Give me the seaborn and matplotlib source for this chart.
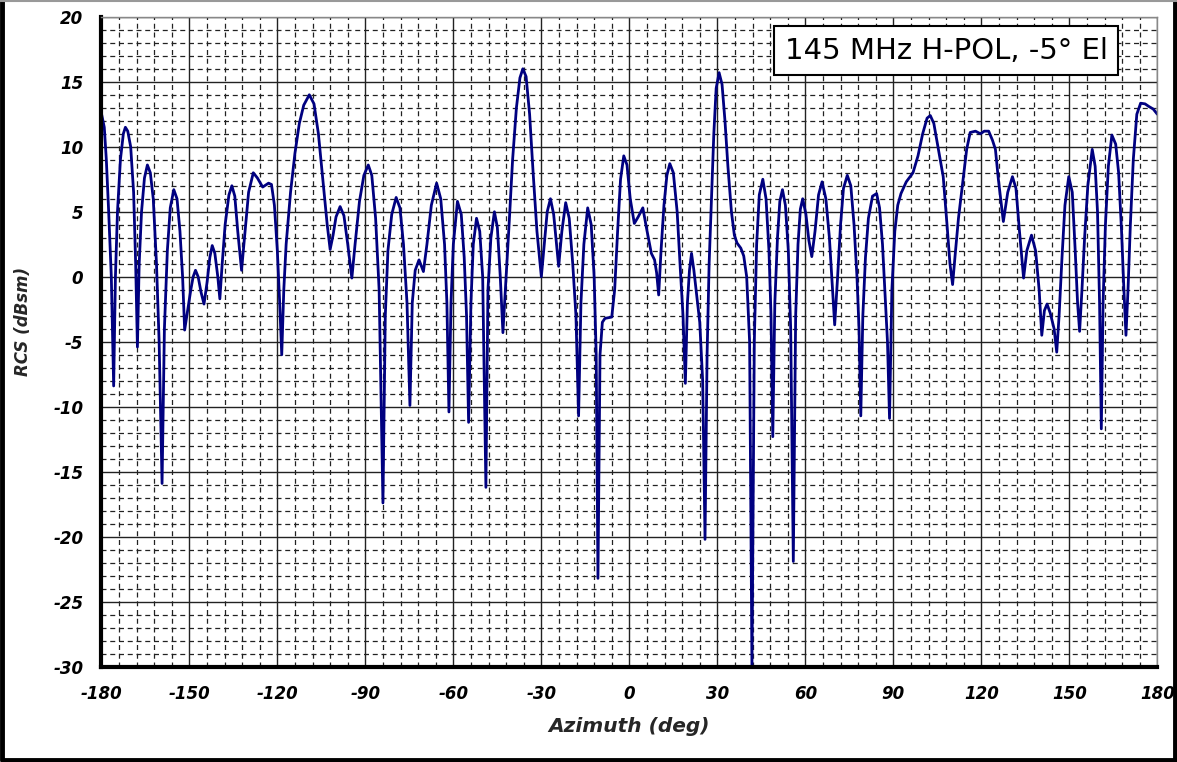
import matplotlib
matplotlib.use("Agg")
import matplotlib.pyplot as plt
from matplotlib.ticker import MultipleLocator
from matplotlib.lines import Line2D
import seaborn as sns
import pandas as pd

# azimuth (deg) and RCS (dBsm)
azimuth = [
    -180, -179, -178.3, -177.5, -176.6, -175.8, -175.2, -174.5, -173.5, -172.5, -171.8, -171, -170, -169, -168.3,
    -167.7, -167.1, -166.3, -165.3, -164.3, -163.3, -162.3, -161.2, -160.3, -159.3, -158.5, -157.5, -156.5,
    -155.3, -154.2, -153.2, -152.3, -151.6, -150.5, -149.5, -148.7, -147.9, -147, -146, -145, -144, -143,
    -142.2, -141.3, -140.3, -139.6, -138.8, -137.8, -136.5, -135.5, -134.5, -133.5, -132.2, -131, -129.8,
    -128.2, -126.8, -125, -123, -122, -121, -120, -119.2, -118.5, -117.8, -117, -115.5, -114, -112.5, -111,
    -109.1, -107.5, -106, -104.5, -103, -102, -101, -100, -98.6, -97.3, -96, -94.6, -93.5, -92, -90.5, -89,
    -87.8, -86.5, -85.3, -84, -83.2, -82.3, -81, -79.5, -78.2, -77, -75.8, -74.8, -74, -73, -71.7, -70.2,
    -69, -67.5, -65.7, -64.3, -63, -62.2, -61.5, -60.8, -60, -58.6, -57.3, -56.3, -55.5, -54.8, -54, -53.2,
    -52.1, -51, -50, -48.9, -48.2, -47.2, -46, -45, -44, -43.1, -42, -41, -39.8, -38.5, -37.3, -36.3, -35.2,
    -34, -32.8, -31.5, -30, -29, -28, -26.9, -25.8, -24.1, -23, -21.7, -20.5, -19.3, -18.2, -17.3, -16.5,
    -15.5, -14.2, -13, -12, -11.3, -10.7, -10, -9.2, -8.3, -6, -5, -4, -3, -1.9, -0.8, 0.3, 1.7, 3, 4.6,
    5.8, 7.5, 8.6, 9.3, 10, 10.8, 11.8, 12.8, 13.8, 15, 16.3, 17.4, 18.3, 19.1, 19.8, 20.5, 21.2, 22, 23,
    24, 25, 25.8, 26.5, 27.2, 28, 28.8, 29.6, 30.6, 31.6, 32.6, 33.6, 34.8, 35.8, 36.7, 38, 39, 40, 41,
    41.8, 42.6, 43.4, 44.3, 45.5, 46.6, 47.6, 48.3, 48.9, 49.6, 50.5, 51.3, 52.2, 53.2, 54.2, 55, 55.9,
    56.7, 57.5, 58.3, 59.1, 60.2, 61.2, 62.2, 63.3, 64.5, 65.7, 67, 68.2, 69, 70, 71, 72, 73, 74.3, 75.5,
    76.6, 77.6, 78.3, 78.9, 79.6, 80.5, 81.5, 82.9, 84.3, 85.3, 86.3, 87.2, 88, 88.7, 89.5, 90.5, 91.5,
    92.6, 94.4, 96.7, 98.4, 100, 101.5, 102.6, 103.8, 105.2, 107, 108.3, 109.3, 110.2, 111, 112.2, 113.9,
    115, 116.2, 118, 119.7, 121, 122.5, 123.8, 124.8, 125.8, 127.5, 129, 130.6, 131.8, 133, 134.4, 135.5,
    137.1, 138.5, 139.7, 140.6, 141.5, 142.4, 143.5, 144.8, 145.7, 146.5, 147.5, 148.5, 149.8, 151, 152,
    152.8, 153.5, 154.3, 155.2, 156.3, 157.8, 158.8, 159.6, 160.3, 160.9, 161.5, 162.3, 163.3, 164.5,
    165.8, 166.8, 167.8, 168.6, 169.3, 170, 170.8, 171.8, 173, 174.3, 175.8, 177.1, 178.6, 180,
]
rcs = [
    12.6, 11.5, 9.0, 5.0, 0.0, -8.4, 0.0, 5.0, 9.0, 11.0, 11.5, 11.2, 10.0, 6.5, 1.0,
    -5.4, 1.0, 5.0, 7.6, 8.6, 8.0, 6.0, 1.0, -5.0, -15.9, -4.0, 2.0, 5.3,
    6.7, 6.0, 3.5, 0.0, -4.1, -2.5, -1.0, 0.0, 0.5, 0.0, -1.2, -2.1, -0.5, 1.5,
    2.4, 1.8, 0.0, -1.7, 1.0, 4.0, 6.3, 7.0, 6.2, 3.5, 0.5, 3.5, 6.5,
    8.0, 7.6, 6.9, 7.2, 7.1, 5.5, 2.0, -2.0, -6.0, -1.0, 2.5, 6.5, 9.5, 11.8, 13.2,
    14.0, 13.3, 11.0, 7.5, 4.0, 2.1, 3.2, 4.6, 5.4, 4.7, 2.5, -0.1, 2.5, 5.8, 7.8, 8.6,
    7.8, 4.5, -1.0, -17.4, -3.0, 2.0, 4.8, 6.1, 5.3, 2.5, -2.0, -9.9, -2.0, 0.5, 1.3, 0.4,
    2.5, 5.5, 7.2, 6.0, 2.5, -2.0, -10.4, -2.0, 2.5, 5.8, 4.8, 1.5, -3.0, -11.2, -2.0, 2.5,
    4.5, 3.5, 0.0, -16.2, -1.0, 3.0, 5.0, 3.8, 0.0, -4.3, 0.0, 4.0, 9.0, 13.0, 15.3, 16.0, 15.4,
    12.5, 8.0, 3.5, 0.0, 2.5, 5.0, 6.0, 4.8, 0.8, 3.5, 5.7, 4.5, 1.0, -3.0, -10.7, -2.0,
    2.5, 5.3, 4.0, 0.0, -6.0, -23.2, -6.0, -3.5, -3.2, -3.1, -1.0, 3.5, 7.5, 9.3, 8.6, 6.0, 4.1, 4.6, 5.3,
    3.8, 1.8, 1.3, 0.3, -1.4, 2.0, 5.5, 7.8, 8.7, 8.0, 5.0, 0.5, -3.0, -8.2, -2.0, 0.5, 1.8, 0.5, -1.5,
    -3.5, -8.0, -20.2, -6.0, 1.0, 6.0, 11.0, 14.5, 15.7, 14.8, 12.0, 8.5, 5.0, 3.2, 2.6, 2.2, 1.6, 0.0, -5.0,
    -30.0, -5.0, 2.5, 6.3, 7.5, 6.0, 2.0, -3.0, -12.3, -2.0, 3.0, 5.8, 6.7, 5.5, 2.0, -4.0, -21.9,
    -3.0, 2.5, 5.2, 6.0, 4.8, 2.8, 1.55, 3.5, 6.3, 7.3, 6.0, 3.0, 0.0, -3.7, 0.0, 4.0, 6.8, 7.8, 7.0,
    4.0, 0.0, -4.0, -10.7, -3.0, 1.5, 4.5, 6.2, 6.4, 5.3, 2.5, -1.5, -5.0, -10.9, -1.0, 3.5, 5.5,
    6.4, 7.3, 8.0, 9.3, 11.0, 12.2, 12.4, 11.8, 10.0, 7.7, 4.0, 1.0, -0.6, 1.5, 4.5, 7.7,
    9.8, 11.1, 11.2, 11.0, 11.2, 11.2, 10.5, 9.8, 7.5, 4.25, 6.5, 7.7, 6.8, 3.5, -0.1, 2.0,
    3.2, 2.0, -1.0, -4.5, -2.6, -2.1, -2.8, -4.0, -5.8, -3.0, 1.5, 5.5, 7.7, 6.5, 2.0,
    -2.0, -4.2, -1.0, 3.0, 7.0, 9.8, 8.5, 5.0, -2.0, -11.7, -2.0, 4.0, 8.5, 10.9,
    10.2, 8.0, 3.5, -1.0, -4.5, -1.0, 4.0, 9.0, 12.5, 13.35, 13.3, 13.1, 12.9, 12.5,
]

x_ticks = list(range(-180, 181, 30))
y_ticks = list(range(-30, 21, 5))
label_text = "145 MHz H-POL, -5° El"

df = pd.DataFrame({"Azimuth": azimuth, "RCS": rcs})

sns.set_style("white")
plt.rcParams["font.family"] = ["DejaVu Sans"]
plt.rcParams["axes.unicode_minus"] = False

fig = plt.figure(figsize=(11.77, 7.62), dpi=100)
ax = fig.add_axes([0.0861, 0.125, 0.8972, 0.853])

# outer frame: heavy black on left/bottom/right, thin grey on top
fig.add_artist(Line2D([0.0017, 0.0017, 0.9983, 0.9983], [1, 0.0026, 0.0026, 1],
                      transform=fig.transFigure, color="black", linewidth=3.5))
fig.add_artist(Line2D([0, 1], [0.999, 0.999], transform=fig.transFigure,
                      color="#999999", linewidth=1.5))

sns.lineplot(data=df, x="Azimuth", y="RCS", ax=ax, color="#000080",
             linewidth=2.0, estimator=None, sort=False)

ax.set_xlim(-180, 180)
ax.set_ylim(-30, 20)
ax.set_xticks(x_ticks)
ax.set_yticks(y_ticks)
ax.xaxis.set_minor_locator(MultipleLocator(6))
ax.yaxis.set_minor_locator(MultipleLocator(1))
ax.grid(which="major", color="#222222", linestyle="-", linewidth=1.0)
ax.grid(which="minor", color="#222222", linestyle=(0, (4, 3)), linewidth=0.9)
ax.set_axisbelow(True)

for s in ["left", "bottom"]:
    ax.spines[s].set_linewidth(3)
    ax.spines[s].set_color("black")
for s in ["top", "right"]:
    ax.spines[s].set_linewidth(1)
    ax.spines[s].set_color("#888888")

ax.tick_params(which="major", direction="out", length=5, width=2, pad=8,
               labelsize=12, colors="black")
ax.tick_params(which="minor", length=0)
for lab in ax.get_xticklabels() + ax.get_yticklabels():
    lab.set_fontstyle("italic")
    lab.set_fontweight("bold")

ax.set_xlabel("Azimuth (deg)", fontsize=14.5, fontweight="bold", fontstyle="italic", labelpad=10)
ax.set_ylabel("RCS (dBsm)", fontsize=12, fontweight="bold", fontstyle="italic")
ax.yaxis.set_label_coords(-0.066, 0.532)

ax.text(0.80, 0.948, label_text, transform=ax.transAxes, ha="center", va="center",
        fontsize=21, color="black", zorder=5,
        bbox=dict(boxstyle="square,pad=0.35", facecolor="white", edgecolor="black", linewidth=1.5))

fig.savefig("out.png", dpi=100)
